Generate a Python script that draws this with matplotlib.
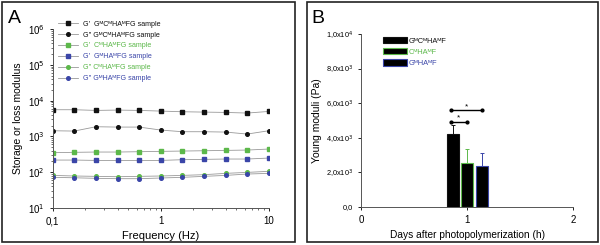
import numpy as np
import matplotlib.pyplot as plt
from matplotlib.patches import Rectangle, Patch
from matplotlib.lines import Line2D

plt.rcParams['font.family'] = ['Liberation Sans', 'DejaVu Sans']

# panel A: frequency sweep
freq = [0.1, 0.158, 0.251, 0.398, 0.631, 1.0, 1.585, 2.512, 3.981, 6.31, 10.0]
gp_gc = [5590, 5590, 5350, 5470, 5350, 5120, 4910, 4800, 4700, 4510, 5010]
gpp_gc = [1445, 1415, 1870, 1830, 1830, 1510, 1357, 1357, 1327, 1167, 1445]
gp_c = [352, 360, 367, 367, 375, 383, 391, 399, 408, 417, 445]
gp_g = [219, 219, 214, 214, 214, 214, 224, 229, 234, 234, 249]
gpp_c = [81.6, 78.5, 76.7, 75.0, 76.7, 78.5, 81.6, 85.4, 93, 99, 106]
gpp_g = [72, 70, 67.5, 66, 66, 69, 72, 76.7, 81.6, 89, 93]
labels_a = ["G'  GᴹCᴹHAᴹFG sample", "G\" GᴹCᴹHAᴹFG sample",
            "G'  CᴹHAᴹFG sample", "G'  GᴹHAᴹFG sample",
            "G\" CᴹHAᴹFG sample", "G\" GᴹHAᴹFG sample"]

# panel B: Young moduli
groups = ["GᴹCᴹHAᴹF", "CᴹHAᴹF", "GᴹHAᴹF"]
young = [4220, 2560, 2390]
young_err = [520, 790, 710]

black = '#111111'
green = '#5cb84a'
blue = '#3a45a8'

fig = plt.figure(figsize=(6, 2.45), dpi=100)
fig.add_artist(Rectangle((0.004, 0.012), 0.488, 0.98, transform=fig.transFigure,
                         fill=False, lw=1.2, ec='#222222'))
fig.add_artist(Rectangle((0.511, 0.012), 0.485, 0.98, transform=fig.transFigure,
                         fill=False, lw=1.2, ec='#222222'))
fig.text(0.014, 0.905, 'A', fontsize=14)
fig.text(0.519, 0.905, 'B', fontsize=14)

# ---- A ----
axA = fig.add_axes([0.088, 0.151, 0.36, 0.73])
series = [(gp_gc, black, 's'), (gpp_gc, black, 'o'), (gp_c, green, 's'),
          (gp_g, blue, 's'), (gpp_c, green, 'o'), (gpp_g, blue, 'o')]
for (vals, col, m), lab in zip(series, labels_a):
    axA.plot(freq, vals, color='#999999', lw=0.6, zorder=1)
    axA.plot(freq, vals, ls='none', marker=m, ms=2.6, color=col, zorder=2)
axA.set_xscale('log')
axA.set_yscale('log')
axA.set_xlim(0.1, 10)
axA.set_ylim(10, 1e6)
axA.set_xticks([0.1, 1, 10])
axA.set_xticklabels(['0,1', '1', '10'])
axA.set_yticks([10, 1e2, 1e3, 1e4, 1e5, 1e6])
axA.set_yticklabels(['10$^1$', '10$^2$', '10$^3$', '10$^4$', '10$^5$', '10$^6$'])
axA.tick_params(labelsize=7, length=2.5, width=0.6)
axA.tick_params(which='minor', length=1.5, width=0.4)
axA.set_xlabel('Frequency (Hz)', fontsize=8, labelpad=3)
axA.set_ylabel('Storage or loss modulus', fontsize=7.5, labelpad=3)
for s in ['top', 'right']:
    axA.spines[s].set_visible(False)
for s in ['left', 'bottom']:
    axA.spines[s].set_color('#555555')
    axA.spines[s].set_linewidth(0.7)
handles = [Line2D([], [], color='#999999', lw=0.6, marker=m, ms=2.6,
                  markerfacecolor=c, markeredgecolor=c) for _, c, m in series]
legA = axA.legend(handles, labels_a, loc='upper left', bbox_to_anchor=(0.0, 1.075),
                  frameon=False, fontsize=5.1, handlelength=2.8, handletextpad=0.7,
                  labelspacing=0.55, borderpad=0.2)
for t, (_, c, _) in zip(legA.get_texts(), series):
    t.set_color(c)

# ---- B ----
axB = fig.add_axes([0.602, 0.155, 0.353, 0.706])
pos = [0.868, 1.0, 1.14]
edge = [black, green, blue]
for x, h, e, ec, lab in zip(pos, young, young_err, edge, groups):
    axB.bar(x, h, width=0.118, color='black', edgecolor=ec, lw=0.8, label=lab)
    axB.errorbar(x, h, yerr=[[0], [e]], color=ec, lw=0.7, capsize=1.5, capthick=0.7)
# significance
axB.plot([0.85, 1.14], [5590, 5590], color='black', lw=1, marker='o', ms=2)
axB.plot([0.85, 0.995], [4930, 4930], color='black', lw=1, marker='o', ms=2)
axB.text(0.995, 5600, '*', ha='center', va='bottom', fontsize=6)
axB.text(0.92, 4940, '*', ha='center', va='bottom', fontsize=6)
axB.set_xlim(0, 2)
axB.set_ylim(0, 1e4)
axB.set_xticks([0, 1, 2])
axB.set_yticks([0, 2000, 4000, 6000, 8000, 10000])
axB.set_yticklabels(['0,0', '2,0x10$^3$', '4,0x10$^3$', '6,0x10$^3$', '8,0x10$^3$', '1,0x10$^4$'])
axB.tick_params(labelsize=5.3, length=2.5, width=0.6)
axB.tick_params(axis='x', labelsize=7)
axB.set_xlabel('Days after photopolymerization (h)', fontsize=7.3, labelpad=3)
axB.set_ylabel('Young moduli (Pa)', fontsize=7.5, labelpad=3)
for s in ['top', 'right']:
    axB.spines[s].set_visible(False)
for s in ['left', 'bottom']:
    axB.spines[s].set_color('#555555')
    axB.spines[s].set_linewidth(0.7)
hB = [Patch(facecolor='black', edgecolor=c, lw=0.8) for c in edge]
legB = axB.legend(hB, groups, loc='upper left', bbox_to_anchor=(0.08, 1.015),
                  frameon=False, fontsize=5.4, handlelength=3.1, handleheight=1.0,
                  handletextpad=0.3, labelspacing=0.42, borderpad=0.2)
for t, c in zip(legB.get_texts(), edge):
    t.set_color(c)

fig.savefig('out.png', dpi=100)
